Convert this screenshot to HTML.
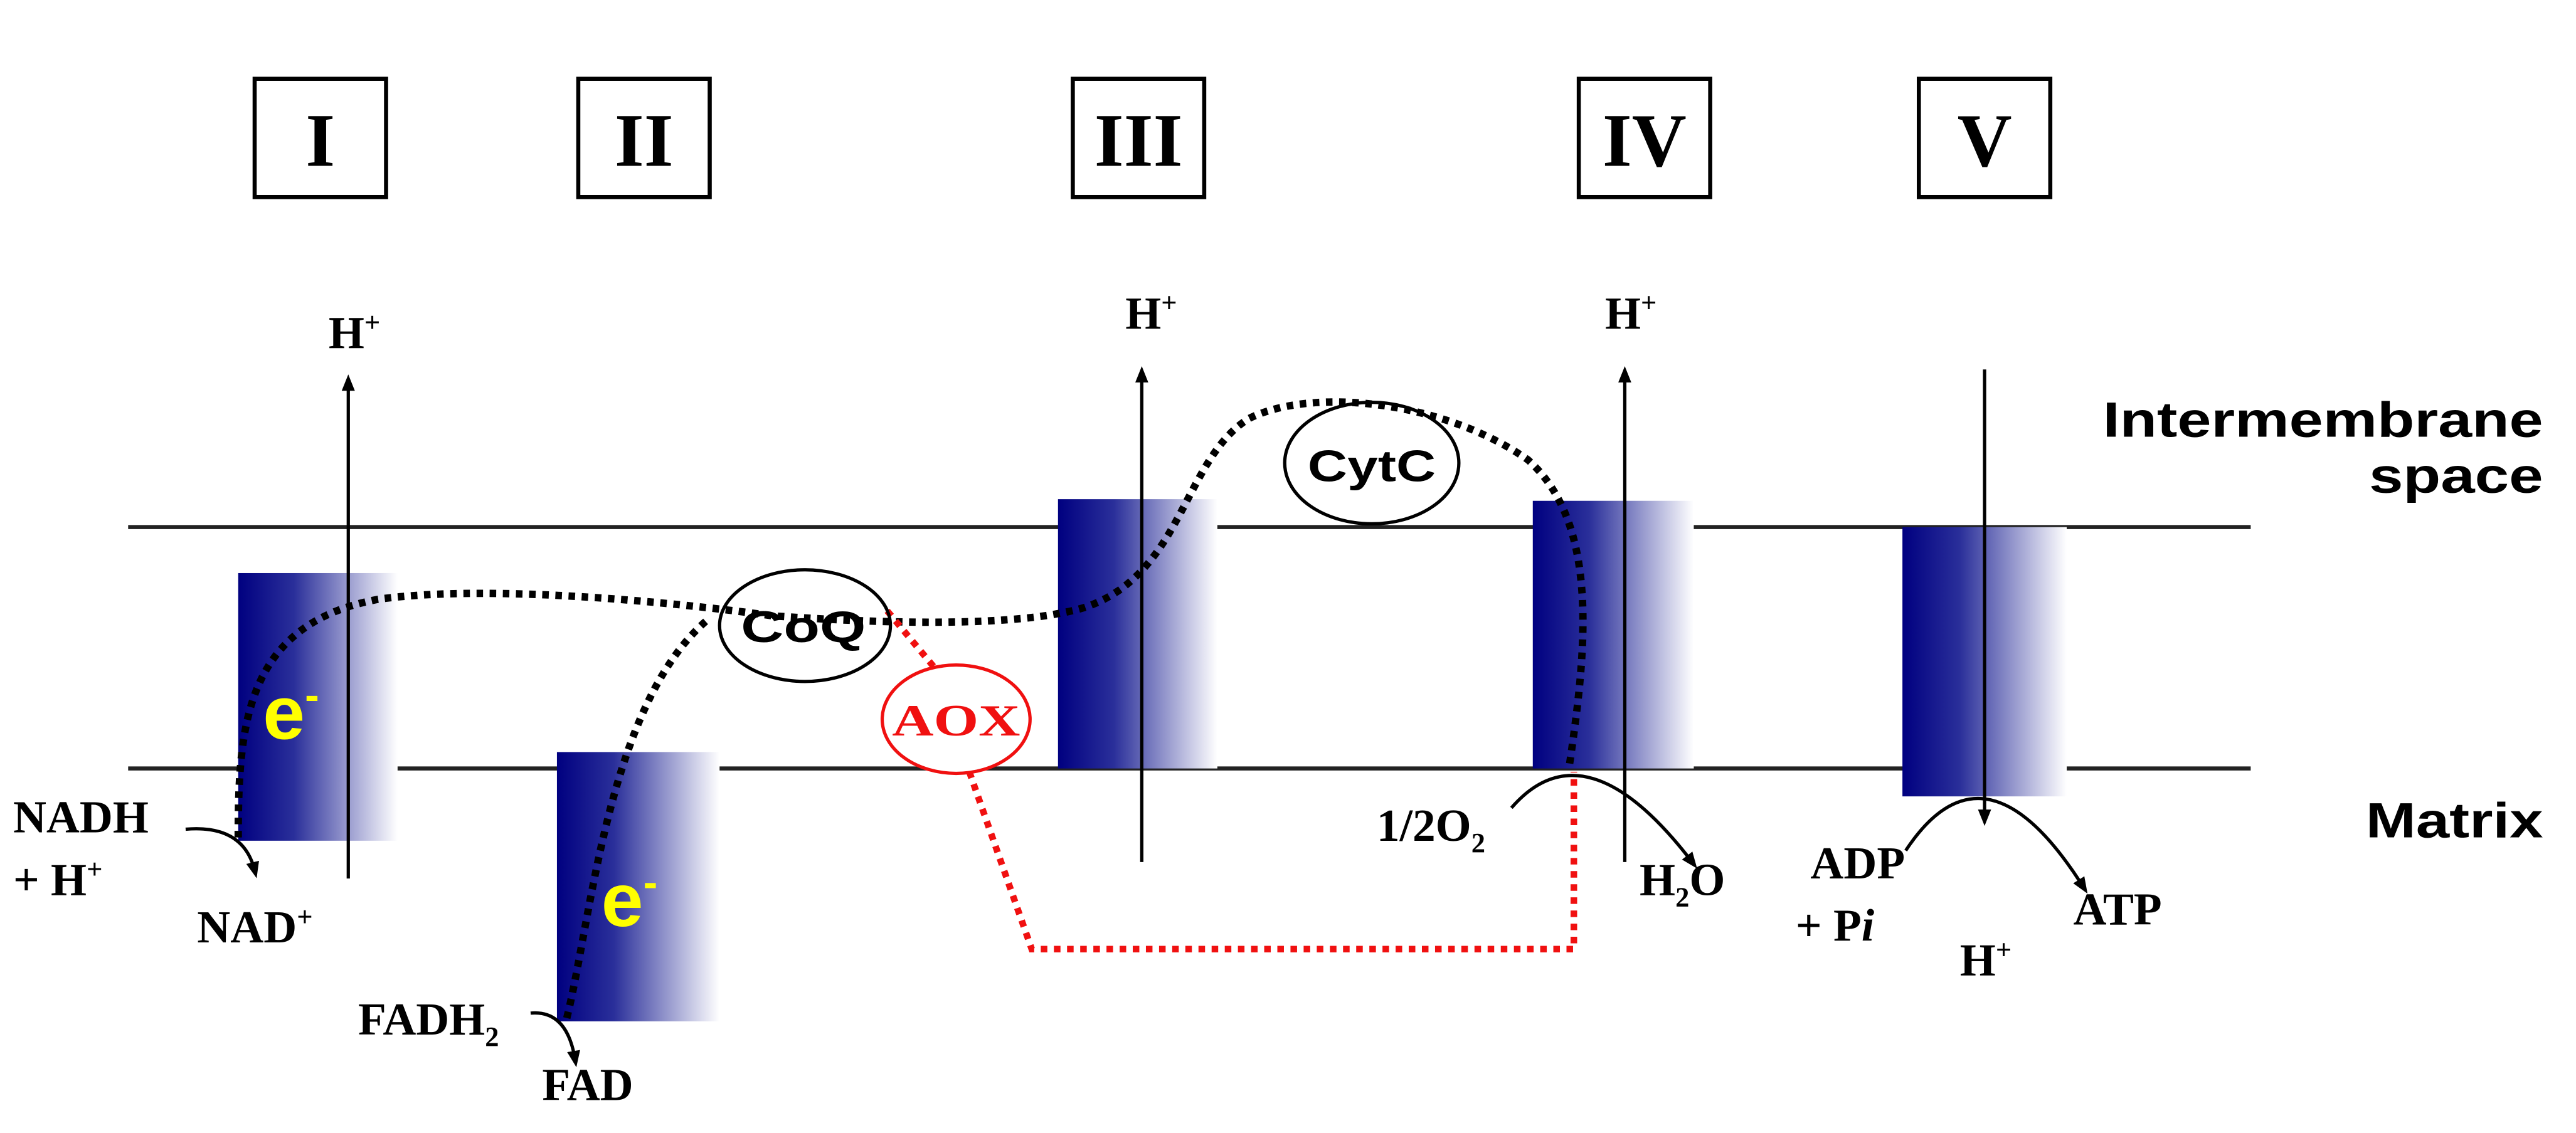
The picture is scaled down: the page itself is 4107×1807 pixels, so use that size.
<!DOCTYPE html>
<html><head><meta charset="utf-8"><style>
html,body{margin:0;padding:0;background:#fff;}
svg{display:block}
.s{font-family:"Liberation Serif",serif;font-weight:bold;}
.a{font-family:"Liberation Sans",sans-serif;font-weight:bold;}
</style></head><body>
<svg width="4107" height="1807" viewBox="0 0 1568 690" preserveAspectRatio="none" xmlns="http://www.w3.org/2000/svg">
<defs>
<linearGradient id="g" x1="0" x2="1" y1="0" y2="0">
<stop offset="0" stop-color="#000080"/><stop offset="0.35" stop-color="#2a2f9a"/><stop offset="1" stop-color="#ffffff"/>
</linearGradient>
<marker id="ah" markerWidth="10" markerHeight="10" refX="5" refY="5" orient="auto" markerUnits="userSpaceOnUse">
<path d="M0,1 L10,5 L0,9 Z" fill="#000"/></marker>
</defs>
<g fill="#fff" stroke="#000" stroke-width="2.5">
<rect x="155" y="48" width="80" height="72"/><rect x="352" y="48" width="80" height="72"/>
<rect x="653" y="48" width="80" height="72"/><rect x="961" y="48" width="80" height="72"/>
<rect x="1168" y="48" width="80" height="72"/>
</g>
<g class="s" font-size="46" text-anchor="middle">
<text x="195" y="101" textLength="22">I</text><text x="392" y="101">II</text><text x="693" y="101">III</text><text x="1001" y="101">IV</text><text x="1208" y="101">V</text>
</g>
<g stroke="#222" stroke-width="2.5">
<line x1="78" y1="321" x2="1370" y2="321"/><line x1="78" y1="468" x2="1370" y2="468"/>
</g>
<g fill="url(#g)">
<rect x="145" y="349" width="97" height="163"/>
<rect x="339" y="458" width="99" height="164"/>
<rect x="644" y="304" width="97" height="164"/>
<rect x="933" y="305" width="98" height="163"/>
<rect x="1158" y="321" width="100" height="164"/>
</g>
<g stroke="#000" stroke-width="2" fill="none">
<line x1="212" y1="535" x2="212" y2="233" marker-end="url(#ah)"/>
<line x1="695" y1="525" x2="695" y2="228" marker-end="url(#ah)"/>
<line x1="989" y1="525" x2="989" y2="228" marker-end="url(#ah)"/>
<line x1="1208" y1="225" x2="1208" y2="498" marker-end="url(#ah)"/>
<path d="M113,505 Q148,502 155,530" marker-end="url(#ah)"/>
<path d="M323,617 Q345,615 350,645" marker-end="url(#ah)"/>
<path d="M920,492 Q965,440 1030,525" marker-end="url(#ah)"/>
<path d="M1160,518 Q1208,445 1268,540" marker-end="url(#ah)"/>
</g>
<g fill="none" stroke="#000" stroke-width="4.5" stroke-dasharray="4,4">
<path d="M145,510 C145,440 150,380 230,365 C300,355 420,368 470,375 C540,380 620,382 660,370 C720,350 720,280 760,255 C800,235 880,245 930,280 C975,320 965,400 955,468"/>
<path d="M345,620 C360,560 370,430 430,378"/>
</g>
<g fill="none" stroke="#f01010" stroke-width="4" stroke-dasharray="4,4">
<path d="M540,372 L570,408"/>
<path d="M590,470 L628,578 L958,578 L958,470"/>
</g>
<ellipse cx="490" cy="381" rx="52" ry="34" fill="none" stroke="#000" stroke-width="2"/>
<ellipse cx="835" cy="282" rx="53" ry="37" fill="none" stroke="#000" stroke-width="2"/>
<ellipse cx="582" cy="438" rx="45" ry="33" fill="#fff" stroke="#f01010" stroke-width="2"/>
<g class="a" font-size="27" text-anchor="middle">
<text x="489" y="391" textLength="76" lengthAdjust="spacingAndGlyphs">CoQ</text><text x="835" y="293" textLength="78" lengthAdjust="spacingAndGlyphs">CytC</text>
</g>
<text class="s" x="582" y="448" font-size="27" fill="#f01010" text-anchor="middle" textLength="78" lengthAdjust="spacingAndGlyphs">AOX</text>
<g class="a" fill="#ffff00" font-size="46">
<text x="160" y="450">e<tspan font-size="26" dy="-18">-</tspan></text>
<text x="366" y="564">e<tspan font-size="26" dy="-18">-</tspan></text>
</g>
<g class="s" font-size="28" fill="#000">
<text x="200" y="212">H<tspan font-size="17" dy="-10">+</tspan></text>
<text x="685" y="200">H<tspan font-size="17" dy="-10">+</tspan></text>
<text x="977" y="200">H<tspan font-size="17" dy="-10">+</tspan></text>
<text x="1193" y="594">H<tspan font-size="17" dy="-10">+</tspan></text>
<text x="8" y="507">NADH</text>
<text x="8" y="545">+ H<tspan font-size="17" dy="-10">+</tspan></text>
<text x="120" y="574">NAD<tspan font-size="17" dy="-10">+</tspan></text>
<text x="218" y="630">FADH<tspan font-size="17" dy="7">2</tspan></text>
<text x="330" y="670">FAD</text>
<text x="838" y="512">1/2O<tspan font-size="17" dy="7">2</tspan></text>
<text x="998" y="545">H<tspan font-size="17" dy="7">2</tspan><tspan dy="-7">O</tspan></text>
<text x="1102" y="535">ADP</text>
<text x="1093" y="573">+ P<tspan font-style="italic">i</tspan></text>
<text x="1262" y="563">ATP</text>
</g>
<g class="a" font-size="30" text-anchor="end">
<text x="1548" y="266" textLength="268" lengthAdjust="spacingAndGlyphs">Intermembrane</text>
<text x="1548" y="300" textLength="106" lengthAdjust="spacingAndGlyphs">space</text>
<text x="1548" y="510" textLength="108" lengthAdjust="spacingAndGlyphs">Matrix</text>
</g>
</svg>
</body></html>
